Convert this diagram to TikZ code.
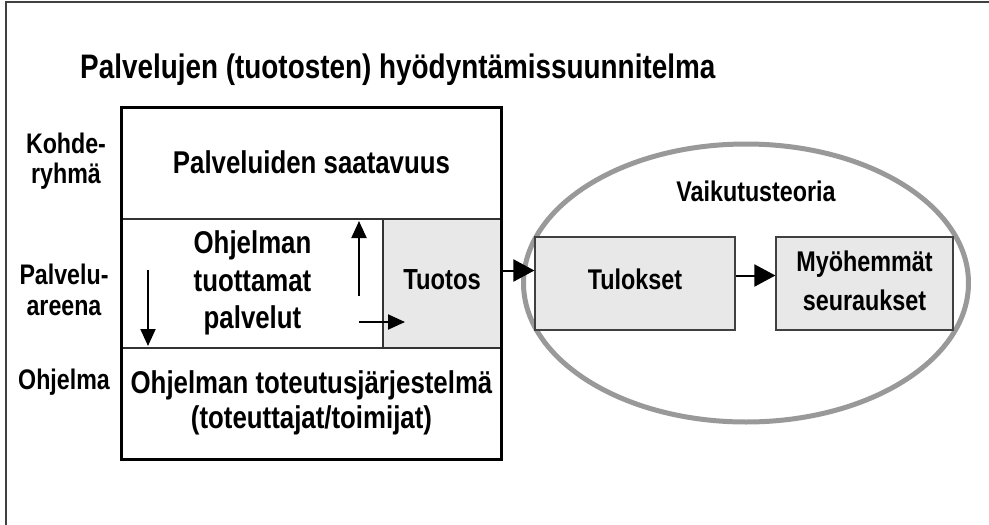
\documentclass[tikz,border=0pt]{standalone}
\usepackage{fontspec}
\setmainfont{Liberation Sans}[FakeStretch=0.82]
\usetikzlibrary{arrows.meta,shapes.geometric}

\tikzset{
  frame/.style={draw=black!75, line width=1.5pt},
  cell/.style={draw=black!80, line width=1.2pt, inner sep=0pt, align=center,
    font=\bfseries\fontsize{31.5}{38.5}\selectfont},
  shaded/.style={cell, fill=black!9},
  effect/.style={draw=black!75, line width=1.2pt, fill=black!9, inner sep=0pt,
    align=center, font=\bfseries\fontsize{28.5}{39}\selectfont},
  sidelabel/.style={align=center, inner sep=0pt,
    font=\bfseries\fontsize{28.3}{30.5}\selectfont},
  heading/.style={inner sep=0pt, font=\bfseries\fontsize{34}{38}\selectfont},
  smallarrow/.style={line width=2pt, -{Triangle[length=17pt,width=15pt]}},
  bigarrow/.style={line width=2pt, -{Triangle[length=21pt,width=22pt]}},
  theory/.style={ellipse, draw=black!40, line width=5pt, inner sep=0pt}
}

\begin{document}
\begin{tikzpicture}[x=1pt, y=-1pt]
\useasboundingbox (0,0) rectangle (989,525);

% page frame (open at right and bottom)
\coordinate (fbl) at (6,525);
\coordinate (ftl) at (6,2);
\coordinate (ftr) at (989,2);
\draw[frame] (fbl) -- (ftl) -- (ftr);

% heading
\node[heading, anchor=base west] (title) at (80,78)
  {Palvelujen (tuotosten) hyödyntämissuunnitelma};

% the three-level programme box
\node[cell, minimum width=379pt, minimum height=111pt] (saat) at (311.5,163.5)
  {\raisebox{3pt}{Palveluiden saatavuus}};
\node[cell, minimum width=261pt, minimum height=129pt] (palv) at (252.5,283.5)
  {\raisebox{2pt}{\begin{tabular}{@{}c@{}}Ohjelman\\[-1pt]tuottamat\\[-1pt]palvelut\end{tabular}}};
\node[shaded, minimum width=118pt, minimum height=129pt, font=\bfseries\fontsize{29}{35}\selectfont] (tuotos) at (442,283.5)
  {\raisebox{8pt}{Tuotos}};
\node[cell, minimum width=379pt, minimum height=111pt] (toteutus) at (311.5,403.5)
  {\raisebox{4pt}{\begin{tabular}{@{}c@{}}Ohjelman toteutusjärjestelmä\\[-3pt](toteuttajat/toimijat)\end{tabular}}};
\draw[line width=2.5pt] (saat.north west) rectangle (toteutus.south east);

% level labels
\node[sidelabel] (kohde) at (66,161) {Kohde-\\ryhmä};
\node[sidelabel] (areena) at (64,290) {Palvelu-\\areena};
\node[sidelabel] (ohjelma) at (64,382) {Ohjelma};

% arrows inside the service arena
\coordinate (downA) at (148,270);
\coordinate (downB) at (148,346);
\coordinate (upA) at (359,296);
\coordinate (upB) at (359,221);
\coordinate (rightA) at (359,322);
\coordinate (rightB) at (405,322);
\draw[smallarrow] (downA) -- (downB);
\draw[smallarrow] (upA) -- (upB);
\draw[smallarrow] (rightA) -- (rightB);

% impact theory
\node[theory, minimum width=445pt, minimum height=278pt] (vt) at (746,283) {};
\node[inner sep=0pt, font=\bfseries\fontsize{28.4}{32}\selectfont] (vtlabel) at (756,191) {Vaikutusteoria};
\node[effect, minimum width=200pt, minimum height=93pt] (tulokset) at (635,283.5)
  {\raisebox{8pt}{Tulokset}};
\node[effect, minimum width=177pt, minimum height=93pt] (seuraukset) at (864.5,283.5)
  {\raisebox{4pt}{\begin{tabular}{@{}c@{}}Myöhemmät\\seuraukset\end{tabular}}};

\draw[bigarrow] ([yshift=13pt]tuotos.east) -- ([yshift=13pt]tulokset.west);
\draw[bigarrow] ([yshift=8pt]tulokset.east) -- ([yshift=8pt]seuraukset.west);
\end{tikzpicture}
\end{document}
